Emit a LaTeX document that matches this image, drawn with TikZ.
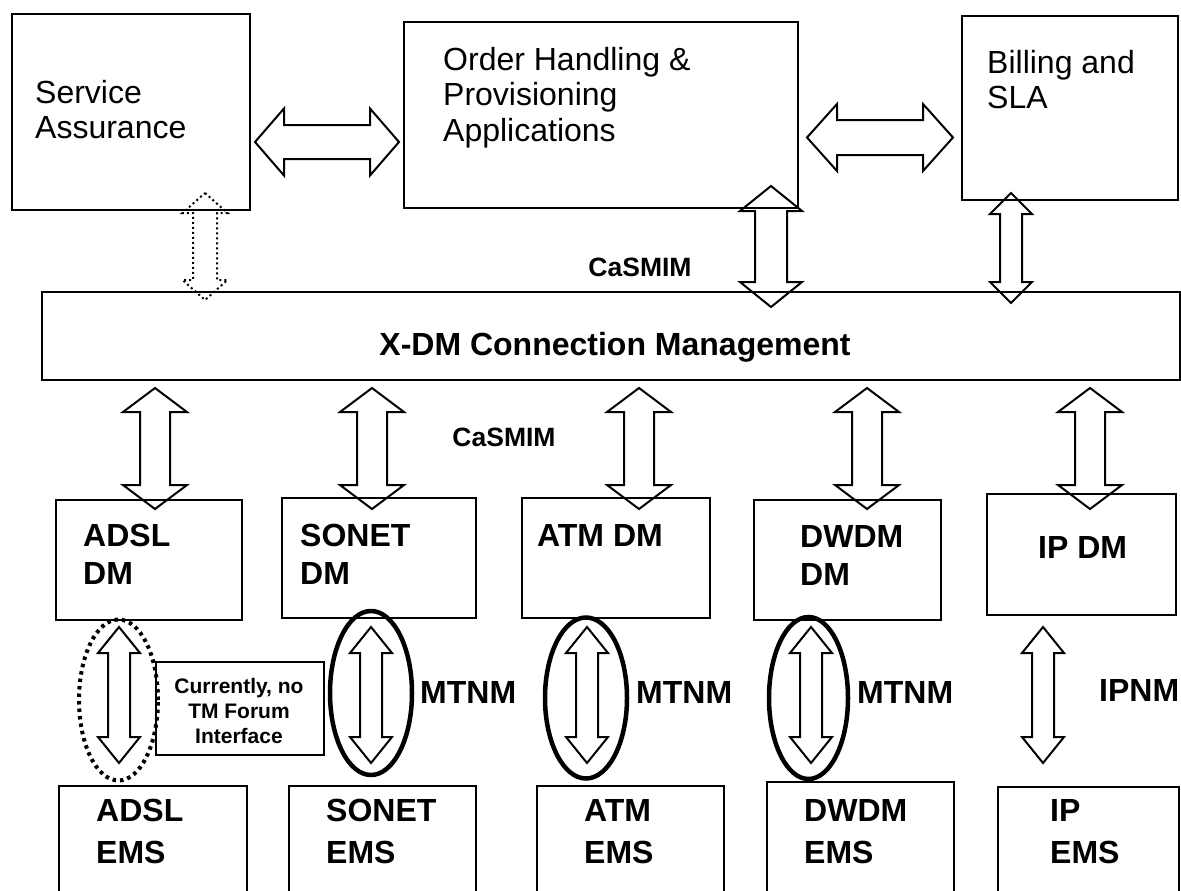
\documentclass[tikz,border=0pt]{standalone}
\usepackage{fontspec}
\setmainfont{Liberation Sans}
\usetikzlibrary{calc,shapes.geometric}
\tikzset{
  box/.style={draw, line width=2pt, inner sep=0pt, anchor=north west},
  txt/.style={inner sep=0pt, anchor=north west, align=left, font=\fontsize{32}{35.5}\selectfont},
  btxt/.style={inner sep=0pt, anchor=north west, align=left, font=\fontsize{32}{38}\selectfont\bfseries},
  emstxt/.style={inner sep=0pt, anchor=north west, align=left, font=\fontsize{32}{42}\selectfont\bfseries},
  lbl/.style={inner sep=0pt, font=\fontsize{32}{36}\selectfont\bfseries},
  smlbl/.style={inner sep=0pt, font=\fontsize{26.5}{30}\selectfont\bfseries},
  notetxt/.style={inner sep=0pt, align=center, font=\fontsize{21}{25}\selectfont\bfseries},
  blk/.style={draw, line width=2pt, line join=miter},
  dotblk/.style={line width=2pt, dash pattern=on 2pt off 3pt},
  oval/.style={draw, ellipse, line width=4.5pt, inner sep=0pt},
  dotoval/.style={draw, ellipse, line width=4pt, inner sep=0pt, dash pattern=on 3.5pt off 4pt}
}
% vertical double block arrow: [style] top tip, bottom tip, head half-width, shaft half-width, head length
\newcommand\varr[6][]{%
  \draw[blk,#1] let \p1=(#2), \p2=(#3) in
   (\x1,\y1) -- ({\x1+#4pt},{\y1-#6pt}) -- ({\x1+#5pt},{\y1-#6pt}) -- ({\x1+#5pt},{\y2+#6pt})
   -- ({\x1+#4pt},{\y2+#6pt}) -- (\x1,\y2) -- ({\x1-#4pt},{\y2+#6pt}) -- ({\x1-#5pt},{\y2+#6pt})
   -- ({\x1-#5pt},{\y1-#6pt}) -- ({\x1-#4pt},{\y1-#6pt}) -- cycle;}
% horizontal double block arrow: left tip, right tip, head half-height, shaft half-height, head length
\newcommand\harr[5]{%
  \draw[blk] let \p1=(#1), \p2=(#2) in
   (\x1,\y1) -- ({\x1+#5pt},{\y1+#3pt}) -- ({\x1+#5pt},{\y1+#4pt}) -- ({\x2-#5pt},{\y1+#4pt})
   -- ({\x2-#5pt},{\y1+#3pt}) -- (\x2,\y1) -- ({\x2-#5pt},{\y1-#3pt}) -- ({\x2-#5pt},{\y1-#4pt})
   -- ({\x1+#5pt},{\y1-#4pt}) -- ({\x1+#5pt},{\y1-#3pt}) -- cycle;}
\begin{document}
\begin{tikzpicture}[x=1pt,y=-1pt]
\path[use as bounding box, fill=white] (0,0) rectangle (1181,891);
\clip (0,0) rectangle (1181,891);

% top boxes
\node[box, minimum width=238pt, minimum height=196pt] (sa) at (11,13) {};
\node[box, minimum width=394pt, minimum height=186pt] (oh) at (403,21) {};
\node[box, minimum width=216pt, minimum height=184pt] (bill) at (961,15) {};
\node[txt] (satxt) at (35,80) {Service\\Assurance};
\node[txt] (ohtxt) at (443,47) {Order Handling \&\\Provisioning\\Applications};
\node[txt] (billtxt) at (987,50) {Billing and\\SLA};

% X-DM
\node[box, minimum width=1138pt, minimum height=88pt] (xdm) at (41,291) {};
\node[lbl] (xdmtxt) at (615,347) {X-DM Connection Management};

% DM boxes
\node[box, minimum width=186pt, minimum height=120pt] (adsldm) at (55,499) {};
\node[box, minimum width=194pt, minimum height=120pt] (sonetdm) at (281,497) {};
\node[box, minimum width=188pt, minimum height=120pt] (atmdm) at (521,497) {};
\node[box, minimum width=187pt, minimum height=120pt] (dwdmdm) at (753,499) {};
\node[box, minimum width=189pt, minimum height=121pt] (ipdm) at (986,493) {};
\node[btxt] (adsldmtxt) at (83,524) {ADSL\\DM};
\node[btxt] (sonetdmtxt) at (300,524) {SONET\\DM};
\node[btxt] (atmdmtxt) at (537,524) {ATM DM};
\node[btxt] (dwdmdmtxt) at (800,525) {DWDM\\DM};
\node[btxt] (ipdmtxt) at (1038,536) {IP DM};

% EMS boxes
\node[box, minimum width=188pt, minimum height=130pt] (adslems) at (58,785) {};
\node[box, minimum width=187pt, minimum height=130pt] (sonetems) at (288,785) {};
\node[box, minimum width=187pt, minimum height=130pt] (atmems) at (536,785) {};
\node[box, minimum width=187pt, minimum height=130pt] (dwdmems) at (766,781) {};
\node[box, minimum width=181pt, minimum height=130pt] (ipems) at (997,786) {};
\node[emstxt] (adslemstxt) at (96,799) {ADSL\\EMS};
\node[emstxt] (sonetemstxt) at (326,799) {SONET\\EMS};
\node[emstxt] (atmemstxt) at (584,799) {ATM\\EMS};
\node[emstxt] (dwdmemstxt) at (804,799) {DWDM\\EMS};
\node[emstxt] (ipemstxt) at (1050,799) {IP\\EMS};

% note box
\node[box, minimum width=168pt, minimum height=93pt] (note) at (155,661) {};
\node[notetxt] (notetxt) at (239,711) {Currently, no\\TM Forum\\Interface};

% labels
\node[smlbl] (cas1) at (640,267) {CaSMIM};
\node[smlbl] (cas2) at (504,437) {CaSMIM};
\node[lbl, anchor=west] (mt1) at (420,692) {MTNM};
\node[lbl, anchor=west] (mt2) at (636,692) {MTNM};
\node[lbl, anchor=west] (mt3) at (857,692) {MTNM};
\node[lbl, anchor=west] (ipnm) at (1099,690) {IPNM};

% arrow end points
\coordinate (h1l) at (255,142); \coordinate (h1r) at (399,142);
\coordinate (h2l) at (807,137.5); \coordinate (h2r) at (953,137.5);
\coordinate (dt) at (205,193); \coordinate (db) at (205,300);
\coordinate (ot) at (771,186); \coordinate (ob) at (771,307);
\coordinate (bt) at (1011,193); \coordinate (bb) at (1011,303);
\foreach \a/\x in {u1/155,u2/372,u3/639,u4/867,u5/1090}{
  \coordinate (\a t) at (\x,388); \coordinate (\a b) at (\x,509);}
\foreach \a/\x in {l1/119,l2/371,l3/587,l4/811,l5/1043}{
  \coordinate (\a t) at (\x,627); \coordinate (\a b) at (\x,763);}

\harr{h1l}{h1r}{33.5}{17}{29}
\harr{h2l}{h2r}{33.5}{17.5}{30}
\varr[dotblk]{dt}{db}{22.5}{12}{20}
\varr{ot}{ob}{31}{16}{25}
\varr{bt}{bb}{21}{11}{21}
\varr{u1t}{u1b}{32}{15}{24}
\varr{u2t}{u2b}{32}{15}{24}
\varr{u3t}{u3b}{32}{15}{24}
\varr{u4t}{u4b}{32}{15}{24}
\varr{u5t}{u5b}{32}{15}{24}
\varr{l1t}{l1b}{21}{11}{26}
\varr{l2t}{l2b}{21}{11}{26}
\varr{l3t}{l3b}{21}{11}{26}
\varr{l4t}{l4b}{21}{11}{26}
\varr{l5t}{l5b}{21}{11}{26}

% ellipses
\node[dotoval, minimum width=79pt, minimum height=161pt] (e0) at (118.5,700) {};
\node[oval, minimum width=82pt, minimum height=164pt] (e1) at (371,693) {};
\node[oval, minimum width=82pt, minimum height=161pt] (e2) at (586,698) {};
\node[oval, minimum width=79pt, minimum height=162pt] (e3) at (808.5,698) {};
\end{tikzpicture}
\end{document}
